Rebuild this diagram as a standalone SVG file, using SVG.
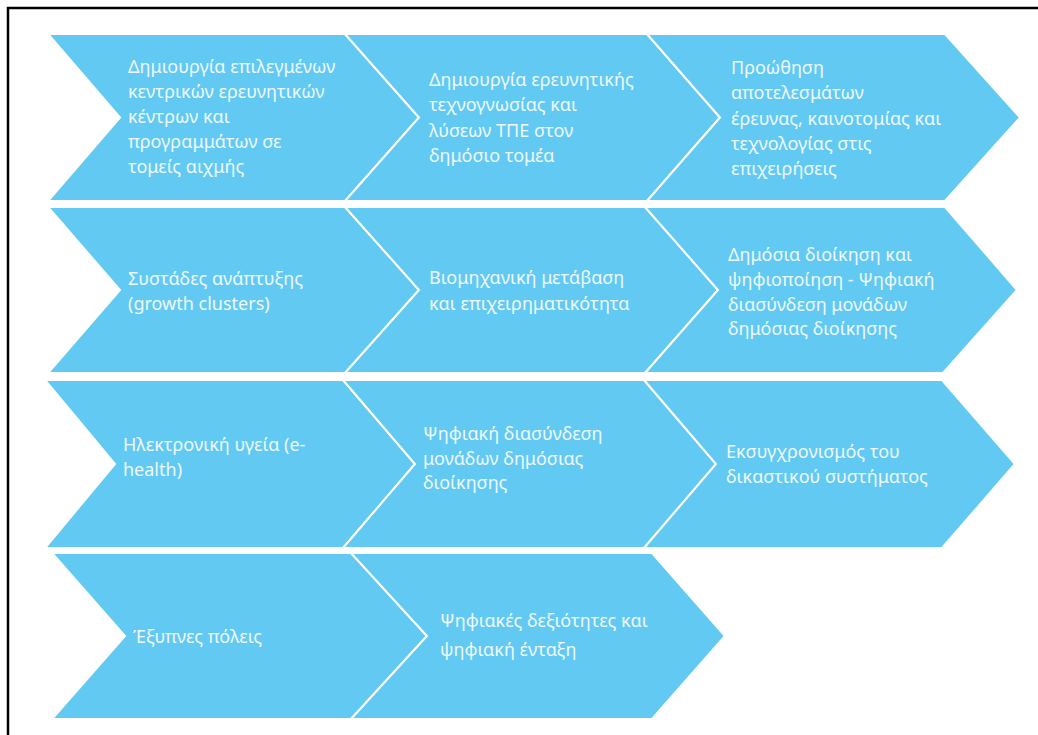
<svg xmlns="http://www.w3.org/2000/svg" width="1038" height="735" viewBox="0 0 1038 735">
<style>
.ch{fill:#62CAF2;stroke:#ffffff;stroke-width:2;stroke-linejoin:miter}
.t{font-family:"Noto Sans","Open Sans","DejaVu Sans",sans-serif;font-size:18px;fill:#EEF8FD}
</style>
<rect width="1038" height="735" fill="#ffffff"/>
<g id="frame"><path d="M8,735 V8 H1038" fill="none" stroke="#000000" stroke-width="2.5"/></g>
<g id="connectors"></g>
<g id="n1"><polygon class="ch" points="48,34 345,34 419,117.5 345,201 48,201 120,117.5"/>
<text class="t"><tspan x="128" y="73">Δημιουργία επιλεγμένων</tspan><tspan x="128" y="98">κεντρικών ερευνητικών</tspan><tspan x="128" y="123">κέντρων και</tspan><tspan x="128" y="148">προγραμμάτων σε</tspan><tspan x="128" y="173">τομείς αιχμής</tspan></text></g>
<g id="n2"><polygon class="ch" points="345,34 647,34 720,117.5 647,201 345,201 419,117.5"/>
<text class="t"><tspan x="429" y="86">Δημιουργία ερευνητικής</tspan><tspan x="429" y="111">τεχνογνωσίας και</tspan><tspan x="429" y="137">λύσεων ΤΠΕ στον</tspan><tspan x="429" y="162">δημόσιο τομέα</tspan></text></g>
<g id="n3"><polygon class="ch" points="647,34 945,34 1020,117.5 945,201 647,201 720,117.5"/>
<text class="t"><tspan x="731" y="74">Προώθηση</tspan><tspan x="731" y="99">αποτελεσμάτων</tspan><tspan x="731" y="125">έρευνας, καινοτομίας και</tspan><tspan x="731" y="150">τεχνολογίας στις</tspan><tspan x="731" y="175">επιχειρήσεις</tspan></text></g>
<g id="n4"><polygon class="ch" points="48,207 345,207 419,290 345,373 48,373 120,290"/>
<text class="t"><tspan x="128" y="285">Συστάδες ανάπτυξης</tspan><tspan x="128" y="310">(growth clusters)</tspan></text></g>
<g id="n5"><polygon class="ch" points="345,207 645,207 718,290 645,373 345,373 419,290"/>
<text class="t"><tspan x="429" y="284">Βιομηχανική μετάβαση</tspan><tspan x="429" y="310">και επιχειρηματικότητα</tspan></text></g>
<g id="n6"><polygon class="ch" points="645,207 945,207 1017,290 943,373 645,373 718,290"/>
<text class="t"><tspan x="728" y="261">Δημόσια διοίκηση και</tspan><tspan x="728" y="286">ψηφιοποίηση - Ψηφιακή</tspan><tspan x="728" y="311">διασύνδεση μονάδων</tspan><tspan x="728" y="335">δημόσιας διοίκησης</tspan></text></g>
<g id="n7"><polygon class="ch" points="45,380 343,380 415,464 343,548 45,548 115,464"/>
<text class="t"><tspan x="123" y="451">Ηλεκτρονική υγεία (e-</tspan><tspan x="123" y="476">health)</tspan></text></g>
<g id="n8"><polygon class="ch" points="343,380 644,380 716,464 644,548 343,548 415,464"/>
<text class="t"><tspan x="423" y="440">Ψηφιακή διασύνδεση</tspan><tspan x="423" y="465">μονάδων δημόσιας</tspan><tspan x="423" y="489">διοίκησης</tspan></text></g>
<g id="n9"><polygon class="ch" points="644,380 942,380 1015,464 942,548 644,548 716,464"/>
<text class="t"><tspan x="726" y="458">Εκσυγχρονισμός του</tspan><tspan x="726" y="483">δικαστικού συστήματος</tspan></text></g>
<g id="n10"><polygon class="ch" points="52,553 351,553 427,636 351,719 52,719 125,636"/>
<text class="t"><tspan x="133" y="643">Έξυπνες πόλεις</tspan></text></g>
<g id="n11"><polygon class="ch" points="351,553 652,553 725,636 652,719 351,719 427,636"/>
<text class="t"><tspan x="440" y="627">Ψηφιακές δεξιότητες και</tspan><tspan x="440" y="656">ψηφιακή ένταξη</tspan></text></g>
</svg>
